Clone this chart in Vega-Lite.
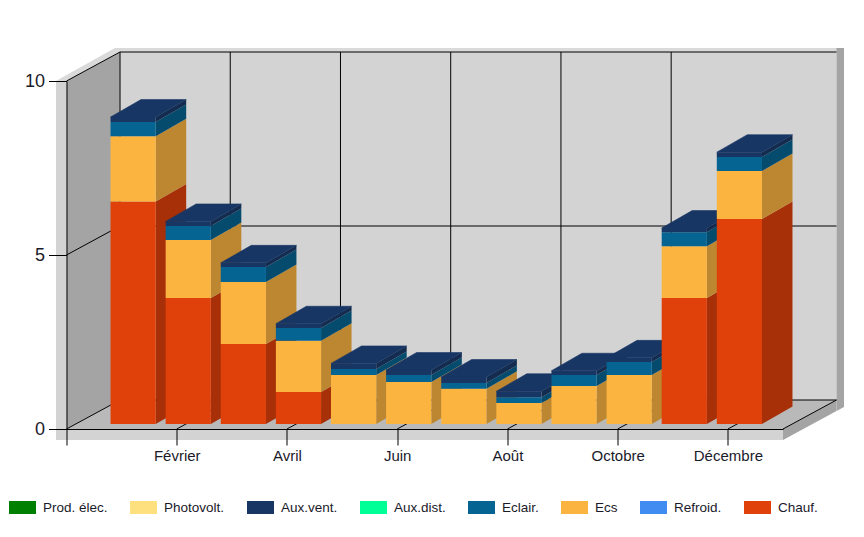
{"$schema":"https://vega.github.io/schema/vega-lite/v6.json","width":716.5,"height":348,"autosize":{"type":"none"},"padding":{"left":66.5,"top":81,"right":81,"bottom":108},"background":"white","config":{"view":{"stroke":null},"font":"Liberation Sans"},
"datasets":{
"conso":[
{"m":1,"mois":"Janvier","serie":"Chauf.","kwh":6.39},{"m":1,"mois":"Janvier","serie":"Ecs","kwh":1.88},{"m":1,"mois":"Janvier","serie":"Eclair.","kwh":0.41},{"m":1,"mois":"Janvier","serie":"Aux.vent.","kwh":0.14},
{"m":2,"mois":"Février","serie":"Chauf.","kwh":3.62},{"m":2,"mois":"Février","serie":"Ecs","kwh":1.67},{"m":2,"mois":"Février","serie":"Eclair.","kwh":0.40},{"m":2,"mois":"Février","serie":"Aux.vent.","kwh":0.13},
{"m":3,"mois":"Mars","serie":"Chauf.","kwh":2.30},{"m":3,"mois":"Mars","serie":"Ecs","kwh":1.78},{"m":3,"mois":"Mars","serie":"Eclair.","kwh":0.43},{"m":3,"mois":"Mars","serie":"Aux.vent.","kwh":0.12},
{"m":4,"mois":"Avril","serie":"Chauf.","kwh":0.92},{"m":4,"mois":"Avril","serie":"Ecs","kwh":1.47},{"m":4,"mois":"Avril","serie":"Eclair.","kwh":0.37},{"m":4,"mois":"Avril","serie":"Aux.vent.","kwh":0.12},
{"m":5,"mois":"Mai","serie":"Ecs","kwh":1.41},{"m":5,"mois":"Mai","serie":"Eclair.","kwh":0.17},{"m":5,"mois":"Mai","serie":"Aux.vent.","kwh":0.16},
{"m":6,"mois":"Juin","serie":"Ecs","kwh":1.21},{"m":6,"mois":"Juin","serie":"Eclair.","kwh":0.20},{"m":6,"mois":"Juin","serie":"Aux.vent.","kwh":0.14},
{"m":7,"mois":"Juillet","serie":"Ecs","kwh":1.01},{"m":7,"mois":"Juillet","serie":"Eclair.","kwh":0.17},{"m":7,"mois":"Juillet","serie":"Aux.vent.","kwh":0.17},
{"m":8,"mois":"Août","serie":"Ecs","kwh":0.60},{"m":8,"mois":"Août","serie":"Eclair.","kwh":0.17},{"m":8,"mois":"Août","serie":"Aux.vent.","kwh":0.17},
{"m":9,"mois":"Septembre","serie":"Ecs","kwh":1.09},{"m":9,"mois":"Septembre","serie":"Eclair.","kwh":0.32},{"m":9,"mois":"Septembre","serie":"Aux.vent.","kwh":0.12},
{"m":10,"mois":"Octobre","serie":"Ecs","kwh":1.41},{"m":10,"mois":"Octobre","serie":"Eclair.","kwh":0.37},{"m":10,"mois":"Octobre","serie":"Aux.vent.","kwh":0.12},
{"m":11,"mois":"Novembre","serie":"Chauf.","kwh":3.62},{"m":11,"mois":"Novembre","serie":"Ecs","kwh":1.49},{"m":11,"mois":"Novembre","serie":"Eclair.","kwh":0.40},{"m":11,"mois":"Novembre","serie":"Aux.vent.","kwh":0.12},
{"m":12,"mois":"Décembre","serie":"Chauf.","kwh":5.89},{"m":12,"mois":"Décembre","serie":"Ecs","kwh":1.38},{"m":12,"mois":"Décembre","serie":"Eclair.","kwh":0.40},{"m":12,"mois":"Décembre","serie":"Aux.vent.","kwh":0.14}
],
"cadre":[
{"p":"a","c":"#d3d3d3","x":0.971,"y":0.833,"y2":10.833},{"p":"a","c":"#d3d3d3","x":13.971,"y":0.833,"y2":10.833},
{"p":"b","c":"#dadada","x":-0.19,"y":10,"y2":10},{"p":"b","c":"#dadada","x":0,"y":10.17,"y2":10},{"p":"b","c":"#dadada","x":0.88,"y":10.948,"y2":10.756},{"p":"b","c":"#dadada","x":0.971,"y":10.948,"y2":10.833},{"p":"b","c":"#dadada","x":13.971,"y":10.948,"y2":10.833},{"p":"b","c":"#dadada","x":14.107,"y":10.948,"y2":10.948},
{"p":"c","c":"#d3d3d3","x":-0.19,"y":-0.316,"y2":10},{"p":"c","c":"#d3d3d3","x":0,"y":-0.316,"y2":10},
{"p":"d","c":"#d3d3d3","x":-0.19,"y":-0.316,"y2":0},{"p":"d","c":"#d3d3d3","x":13,"y":-0.316,"y2":0},
{"p":"e","c":"#a4a4a4","x":0,"y":0,"y2":10},{"p":"e","c":"#a4a4a4","x":0.971,"y":0.833,"y2":10.833},
{"p":"f","c":"#b9b9b9","x":0,"y":0,"y2":0},{"p":"f","c":"#b9b9b9","x":0.971,"y":0,"y2":0.833},{"p":"f","c":"#b9b9b9","x":13,"y":0,"y2":0.833},{"p":"f","c":"#b9b9b9","x":13.971,"y":0.833,"y2":0.833},
{"p":"g","c":"#a4a4a4","x":13,"y":-0.316,"y2":0},{"p":"g","c":"#a4a4a4","x":13.971,"y":0.517,"y2":0.833},
{"p":"h","c":"#a4a4a4","x":13.971,"y":0.517,"y2":10.948},{"p":"h","c":"#a4a4a4","x":14.107,"y":0.632,"y2":10.948}
],
"grille":[
{"x":0.971,"x2":13.971,"y":0.833,"y2":0.833},{"x":0.971,"x2":13.971,"y":5.833,"y2":5.833},{"x":0.971,"x2":13.971,"y":10.833,"y2":10.833},
{"x":0.971,"x2":0.971,"y":0.833,"y2":10.833},{"x":2.971,"x2":2.971,"y":0.833,"y2":10.833},{"x":4.971,"x2":4.971,"y":0.833,"y2":10.833},{"x":6.971,"x2":6.971,"y":0.833,"y2":10.833},{"x":8.971,"x2":8.971,"y":0.833,"y2":10.833},{"x":10.971,"x2":10.971,"y":0.833,"y2":10.833},
{"x":0,"x2":0.971,"y":0,"y2":0.833},{"x":0,"x2":0.971,"y":5,"y2":5.833},{"x":0,"x2":0.971,"y":10,"y2":10.833},
{"x":2,"x2":2.971,"y":0,"y2":0.833},{"x":4,"x2":4.971,"y":0,"y2":0.833},{"x":6,"x2":6.971,"y":0,"y2":0.833},{"x":8,"x2":8.971,"y":0,"y2":0.833},{"x":10,"x2":10.971,"y":0,"y2":0.833},{"x":12,"x2":12.971,"y":0,"y2":0.833},{"x":13,"x2":13.971,"y":0,"y2":0.833}
]},
"layer":[
{"data":{"name":"cadre"},"mark":{"type":"area","interpolate":"linear"},"encoding":{"x":{"field":"x","type":"quantitative","title":null,"scale":{"domain":[0,13],"nice":false,"zero":false},"axis":{"values":[0,2,4,6,8,10,12],"zindex":1,"title":null,"grid":false,"tickSize":16,"tickColor":"black","domainColor":"black","labelColor":"#1a1a2a","labelFontSize":15,"labelPadding":3,"labelOverlap":false,"labelBound":false,"labelFlush":false,"labelExpr":"{'0':'','2':'Février','4':'Avril','6':'Juin','8':'Août','10':'Octobre','12':'Décembre'}[datum.value]"}},"y":{"field":"y","type":"quantitative","title":null,"scale":{"domain":[0,10],"nice":false,"zero":false},"axis":{"values":[0,5,10],"zindex":1,"title":null,"grid":false,"tickSize":18,"tickColor":"black","domainColor":"black","labelColor":"#1a1a2a","labelFontSize":18,"labelPadding":4,"labelOverlap":false,"labelBound":false,"labelFlush":false}},"y2":{"field":"y2"},"detail":{"field":"p"},"fill":{"field":"c","type":"nominal","scale":null,"legend":null}}},
{"data":{"name":"grille"},"mark":{"type":"rule","stroke":"black","strokeWidth":1},"encoding":{"x":{"field":"x","type":"quantitative","title":null},"x2":{"field":"x2"},"y":{"field":"y","type":"quantitative","title":null},"y2":{"field":"y2"}}},
{"data":{"name":"conso"},"transform":[{"stack":"kwh","groupby":["m"],"as":["v0","v1"]},{"calculate":"[0,1]","as":"d"},{"flatten":["d"]},{"calculate":"datum.m+0.619+datum.d*0.553","as":"sx"},{"calculate":"datum.v0+0.144+datum.d*0.503","as":"sy0"},{"calculate":"datum.v1+0.144+datum.d*0.503","as":"sy1"}],"mark":{"type":"area","interpolate":"linear"},"encoding":{"x":{"field":"sx","type":"quantitative","title":null},"y":{"field":"sy1","type":"quantitative","title":null},"y2":{"field":"sy0"},"detail":{"field":"m"},"fill":{"field":"serie","type":"nominal","legend":null,"scale":{"domain":["Chauf.","Ecs","Eclair.","Aux.vent."],"range":["#A83008","#BD8731","#044B6E","#142C4F"]}}}},
{"data":{"name":"conso"},"transform":[{"stack":"kwh","groupby":["m"],"as":["v0","v1"]},{"filter":"datum.serie==='Aux.vent.'"},{"calculate":"[0,1]","as":"d"},{"flatten":["d"]},{"calculate":"datum.m-0.201+datum.d*0.553","as":"tx0"},{"calculate":"datum.m+0.619+datum.d*0.553","as":"tx1"},{"calculate":"datum.v1+0.144+datum.d*0.503","as":"ty"}],"mark":{"type":"area","orient":"horizontal","interpolate":"linear","fill":"#183664","stroke":"#183664","strokeWidth":0.6},"encoding":{"y":{"field":"ty","type":"quantitative","title":null},"x":{"field":"tx0","type":"quantitative","title":null},"x2":{"field":"tx1"},"detail":{"field":"m"}}},
{"data":{"name":"conso"},"transform":[{"stack":"kwh","groupby":["m"],"as":["v0","v1"]},{"calculate":"datum.m-0.201","as":"fx0"},{"calculate":"datum.m+0.619","as":"fx1"},{"calculate":"datum.v0+0.144","as":"fy0"},{"calculate":"datum.v1+0.144","as":"fy1"}],"mark":{"type":"rect"},"encoding":{"x":{"field":"fx0","type":"quantitative","title":null},"x2":{"field":"fx1"},"y":{"field":"fy1","type":"quantitative","title":null},"y2":{"field":"fy0"},"color":{"field":"serie","type":"nominal","scale":{"domain":["Prod. élec.","Photovolt.","Aux.vent.","Aux.dist.","Eclair.","Ecs","Refroid.","Chauf."],"range":["#008000","#FFE07F","#183664","#00FF96","#056492","#FCB441","#418CF0","#E0400A"]},"legend":{"title":null,"orient":"none","direction":"horizontal","columns":8,"legendX":-57.5,"legendY":413,"symbolType":"M-1,-0.48H1V0.48H-1Z","symbolSize":729,"symbolStrokeWidth":0,"symbolOpacity":1,"labelFontSize":13.5,"labelColor":"#1a1a2a","labelOffset":7,"columnPadding":22,"labelLimit":200}}}}
]}
